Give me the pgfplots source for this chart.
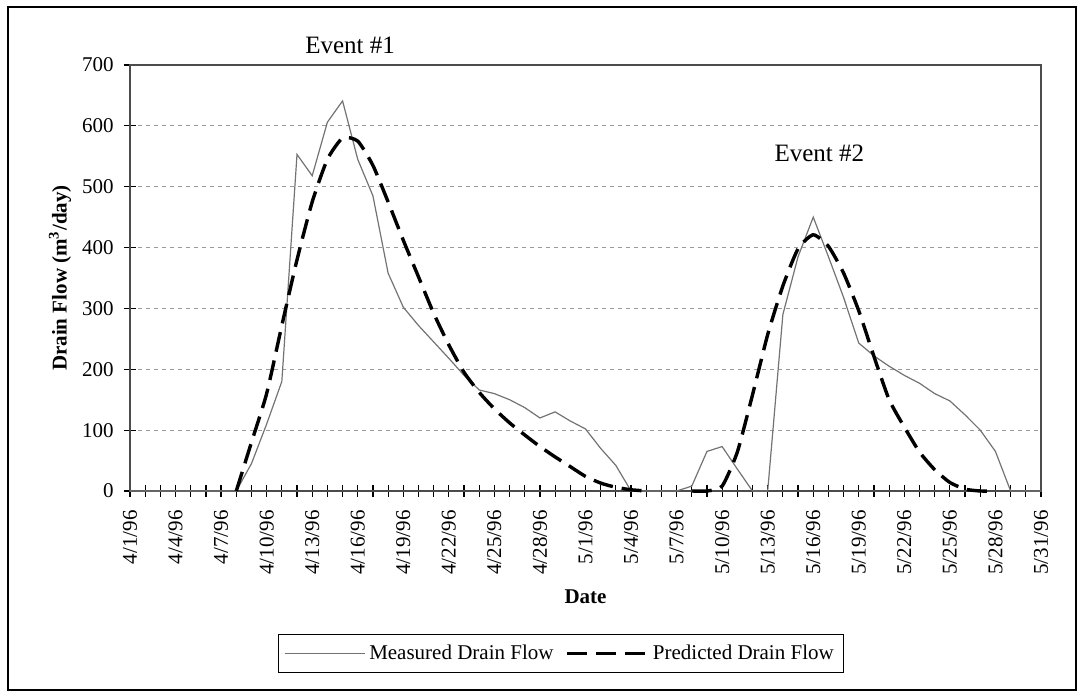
\documentclass[border=0pt]{standalone}
\usepackage{fontspec}
\setmainfont{Liberation Serif}
\usepackage{pgfplots}
\pgfplotsset{compat=1.18}
\begin{document}
\fontsize{10.5}{12.6}\selectfont
\begin{tikzpicture}
\useasboundingbox (0,0) rectangle (541pt,347pt);
\draw[line width=0.9pt] (4pt,2pt) rectangle (538pt,343.5pt);
\begin{axis}[
  at={(65pt,101.5pt)}, anchor=south west,
  scale only axis, width=455.5pt, height=213pt,
  xmin=0, xmax=60, ymin=0, ymax=700,
  xtick={0,3,...,60},
  xticklabels={4/1/96,4/4/96,4/7/96,4/10/96,4/13/96,4/16/96,4/19/96,4/22/96,4/25/96,4/28/96,5/1/96,5/4/96,5/7/96,5/10/96,5/13/96,5/16/96,5/19/96,5/22/96,5/25/96,5/28/96,5/31/96},
  minor xtick={0,1,...,60},
  ytick={0,100,...,700},
  xtick pos=bottom, ytick pos=left,
  tick align=center,
  major tick length=6pt, minor tick length=6pt,
  tick style={black, line width=0.6pt},
  /pgf/number format/assume math mode=true,
  xticklabel style={rotate=90, anchor=east, xshift=-3pt, font=\fontsize{10.5}{12}\selectfont},
  yticklabel style={xshift=-1.5pt, font=\fontsize{10.5}{12}\selectfont},
  ymajorgrids,
  major grid style={gray!80, dash pattern=on 2pt off 2pt, line width=0.5pt},
  axis line style={gray!60!black, line width=0.6pt},
  xlabel={\textbf{Date}},
  xlabel style={at={(axis description cs:0.5,0)}, yshift=-53pt, anchor=center},
  ylabel={\textbf{Drain Flow (m\textsuperscript{3}/day)}},
  ylabel style={at={(axis description cs:0,0.5)}, yshift=35pt, anchor=center},
  clip=false,
  legend columns=2,
  legend style={at={(axis description cs:0.473,0)}, yshift=-81.25pt, anchor=center,
    draw=black, line width=0.5pt, inner sep=3pt, font=\fontsize{10.5}{12}\selectfont,
    /tikz/every even column/.append style={column sep=4pt}},
  legend image code/.code={\draw[#1] (0pt,0pt) -- (40pt,0pt);},
]
\addplot[black!55, line width=0.6pt] coordinates {
(0,0)(1,0)(2,0)(3,0)(4,0)(5,0)(6,0)(7,0)(8,45)(9,110)(10,180)(11,553)(12,518)(13,606)(14,641)(15,545)(16,485)(17,358)(18,302)(19,272)(20,245)(21,218)(22,190)(23,166)(24,160)(25,150)(26,137)(27,120)(28,130)(29,115)(30,102)(31,70)(32,42)(33,0)(34,0)(35,0)(36,0)(37,8)(38,65)(39,73)(40,36)(41,0)(42,0)(43,290)(44,385)(45,450)(46,385)(47,318)(48,243)(49,222)(50,205)(51,190)(52,177)(53,160)(54,148)(55,125)(56,100)(57,65)(58,0)(59,0)(60,0)
};
\addlegendentry{Measured Drain Flow}
\addplot[black, line width=1.7pt, dash pattern=on 10pt off 4.5pt, smooth, tension=0.35] coordinates {
(7,0)(8,80)(9,160)(10,272)(11,380)(12,475)(13,545)(14,580)(15,575)(16,535)(17,475)(18,412)(19,352)(20,292)(21,240)(22,195)(23,162)(24,135)(25,112)(26,92)(27,73)(28,56)(29,40)(30,24)(31,13)(32,6)(33,2)(34,0)
};
\addlegendentry{Predicted Drain Flow}
\addplot[black, line width=1.7pt, dash pattern=on 10pt off 4.5pt, smooth, tension=0.35, forget plot] coordinates {
(37,0)(38,0)(39,8)(40,64)(41,158)(42,257)(43,337)(44,398)(45,421)(46,402)(47,358)(48,296)(49,221)(50,150)(51,105)(52,64)(53,35)(54,14)(55,3)(56,0)(57,0)
};
\node[font=\fontsize{12.5}{15}\selectfont] at (axis cs:14.5,733) {Event \#1};
\node[font=\fontsize{12.5}{15}\selectfont] at (axis cs:45.4,555) {Event \#2};
\end{axis}
\end{tikzpicture}
\end{document}
